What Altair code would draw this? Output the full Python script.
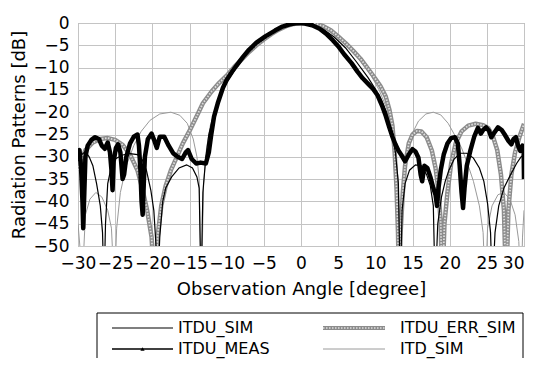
import altair as alt
import pandas as pd

# ---------------- data ----------------
x_ticks = [-30, -25, -20, -15, -10, -5, 0, 5, 10, 15, 20, 25, 30]
y_ticks = [0, -5, -10, -15, -20, -25, -30, -35, -40, -45, -50]

itd_sim_angle = [-30, -29.6, -29.4, -29.2, -29.0, -28.4, -27.6, -26.8, -26.0, -25.5, -25.1, -24.8,
                 -24.3, -23.5, -22.5, -21.5, -20.3, -19.0, -17.5, -16.3, -15.3, -14.5, -14.0, -13.7,
                 -13.4, -13.1, -12.7, -12.2, -11.5, -10.5, -9.5, -8.0, -6.5, -5.0, -3.5, -2.0, 0,
                 2.0, 3.5, 5.0, 6.5, 8.0, 9.5, 10.5, 11.5, 12.2, 12.7, 13.1, 13.4, 13.7, 14.2, 14.9,
                 15.8, 16.8, 17.8, 18.8, 19.8, 20.8, 21.6, 22.4, 23.2, 24.0, 24.5, 24.8, 25.1, 25.7,
                 26.5, 27.3, 28.1, 28.8, 29.3, 29.6, 29.8, 30.0]
itd_sim_db = [-45, -53, -60, -50, -43, -39.5, -38, -39, -42, -46, -60, -46,
              -38, -32, -27.5, -24.3, -21.8, -20.4, -20, -20.7, -22.5, -26, -30, -35,
              -60, -36, -28, -23, -19, -15, -12, -8.5, -5.6, -3.3, -1.6, -0.5, 0,
              -0.5, -1.6, -3.3, -5.6, -8.5, -12, -15, -19, -23, -28, -36, -60, -36, -29, -25,
              -22, -20.4, -20, -20.6, -22.5, -25.5, -28, -31.5, -35.5, -41, -47, -60, -46, -41,
              -38.5, -38, -39.5, -43, -49, -60, -48, -42]

itdu_err_angle = [-30, -29.5, -29, -28, -27, -26, -25, -24, -23, -22, -21.3, -20.7, -20.1, -19.7,
                  -19.3, -18.8, -18.2, -17.5, -16.7, -15.9, -15.0, -14.0, -13.2, -12.0, -11.0,
                  -10.0, -9.0, -8.0, -7.0, -6.0, -5.0, -4.0, -3.0, -2.0, -1.0, 0.0, 1.0, 2.0, 3.0,
                  4.0, 5.0, 6.0, 7.0, 8.0, 9.0, 10.0, 10.7, 11.4, 11.9, 12.3, 12.6, 12.85, 13.05,
                  13.2, 13.4, 13.7, 14.0, 14.5, 15.0, 15.6, 16.2, 16.9, 17.6, 18.1, 18.5, 18.8,
                  19.0, 19.3, 19.7, 20.2, 20.8, 21.6, 22.5, 23.5, 24.5, 25.2, 25.8, 26.4, 26.9,
                  27.3, 27.6, 27.9, 28.3, 28.8, 29.4, 30.0]
itdu_err_db = [-33, -30.5, -28.5, -26.8, -26, -25.8, -26.2, -27.3, -29.5, -33, -37.5, -42, -48, -60,
               -48, -41, -36.5, -33, -30, -27, -24.2, -20.8, -18, -15.3, -13.4,
               -11.8, -9.9, -8.2, -6.5, -5, -3.7, -2.5, -1.5, -0.7, -0.2, 0, 0, -0.2, -0.7,
               -1.6, -3, -4.5, -6.2, -8, -10.2, -12.5, -14.2, -16.5, -19.5, -23, -29, -37, -47,
               -60, -47, -38, -32, -27, -25, -24.2, -24.3, -25.6, -28.6, -32.5, -37.5, -45,
               -60, -45, -38, -31.5, -27, -24.3, -23, -22.6, -22.9, -23.6, -25.3, -28.5, -34,
               -42, -60, -42, -34, -29, -25.5, -22.6]

itdu_sim_angle = [-30, -29.5, -29.0, -28.5, -28.0, -27.5, -27.0, -26.7, -26.5, -26.3, -26.0, -25.5,
                  -25.0, -24.0, -23.0, -22.0, -21.4, -20.8, -20.2, -19.8, -19.5, -19.3, -19.0,
                  -18.6, -18.2, -17.4, -16.4, -15.4, -14.6, -14.0, -13.7, -13.45, -13.2, -12.8,
                  -12.4, -11.8, -11.0, -10.0, -8.7, -7.0, -5.0, -3.0, -1.5, 0, 1.5, 3.0, 4.5, 6.0,
                  7.5, 9.0, 10.0, 10.8, 11.5, 12.2, 12.7, 13.1, 13.35, 13.6, 14.0, 14.6, 15.4,
                  16.2, 16.9, 17.4, 17.8, 18.05, 18.4, 18.9, 19.4, 19.9, 20.6, 21.4, 22.3, 23.2,
                  24.0, 24.6, 25.1, 25.5, 25.75, 26.1, 26.6, 27.3, 28.2, 29.0, 29.6, 30.0]
itdu_sim_db = [-31, -29.5, -28.8, -30, -32, -36, -41, -47, -60, -45, -36, -32,
               -30.5, -29.6, -29.3, -29.5, -30.5, -33, -37.5, -42, -50, -60, -48,
               -40, -37, -34.5, -32.5, -31.8, -32.5, -34.5, -37, -60, -38, -30,
               -25, -21, -17, -13.2, -10, -6.2, -3.3, -1.3, -0.3, 0, -0.4, -1.4, -3.2, -5.6,
               -8.8, -12.2, -14.8, -17.2, -20, -24.5, -29, -36, -60, -42, -36, -33, -31.8,
               -32, -34, -36.5, -41, -60, -45, -39, -35.5, -33, -30.5, -29.2, -29.2, -30.3,
               -32.5, -35.5, -40.5, -47, -60, -47, -41, -37, -34, -31.5, -30, -29.5]

itdu_meas_angle = [-30.0, -29.8, -29.6, -29.4, -29.3, -29.15, -29.0, -28.7, -28.2, -27.7, -27.2,
                   -26.8, -26.4, -26.0, -25.7, -25.5, -25.35, -25.2, -24.9, -24.6, -24.3, -24.0,
                   -23.8, -23.5, -23.0, -22.5, -22.0, -21.8, -21.6, -21.45, -21.3, -21.15, -21.0,
                   -20.6, -20.1, -19.7, -19.4, -19.0, -18.4, -17.8, -17.2, -16.6, -16.0, -15.5,
                   -15.2, -14.7, -14.1, -13.5, -12.8, -12.4, -12.1, -11.7, -11.2, -10.5, -10.0,
                   -9.3, -8.7, -7.8, -7.0, -6.0, -4.8, -3.5, -2.5, -1.5, -0.5, 0.5, 1.5, 2.5, 3.5,
                   4.3, 5.0, 5.8, 6.8, 7.6, 8.3, 9.0, 9.7, 10.3, 10.9, 11.4, 11.9, 12.3, 12.7,
                   13.1, 13.5, 14.0, 14.5, 15.0, 15.4, 15.8, 16.1, 16.3, 16.6, 17.0, 17.4, 17.8,
                   18.1, 18.3, 18.5, 18.8, 19.2, 19.7, 20.2, 20.7, 21.1, 21.35, 21.6, 21.8, 22.0,
                   22.3, 22.8, 23.3, 23.8, 24.2, 24.5, 24.9, 25.3, 25.6, 26.0, 26.5, 27.0, 27.4,
                   27.9, 28.3, 28.6, 28.9, 29.2, 29.5, 29.8, 29.95, 30.0]
itdu_meas_db = [-29.5, -28.5, -32, -40, -46, -38, -30, -27.5, -26.2, -25.6, -26,
                -27.5, -28.2, -26.8, -29, -33, -37.5, -31, -28, -27.2, -29, -35,
                -34, -30, -27, -25.5, -25, -27.5, -33, -40, -43, -36, -30,
                -26, -24.8, -26.5, -28, -25.5, -25.5, -27.5, -29.2, -30, -30.5, -29,
                -28.5, -30.5, -31.5, -31.3, -31.5, -29, -25.3, -21, -18, -14.5, -12.8,
                -11, -9.6, -7.6, -6, -4.4, -3, -1.7, -0.8, -0.3, 0, -0.1, -0.5, -1.3, -2.6,
                -3.9, -5.2, -7, -9, -10.9, -12.4, -13.6, -14.8, -16.2, -18.5, -20.8, -23.5, -25.5, -27.2,
                -28.6, -29.6, -31, -29.5, -28.3, -28.8, -30.2, -34, -35.5, -32, -32.5, -34.5, -37,
                -38.5, -41, -37, -33, -29.5, -27, -25.8, -25.6, -27, -32, -38, -41.5, -37,
                -32, -28.5, -25.5, -23.5, -24.8, -24, -23.4, -24.2, -25.6, -24.6, -23.4, -24, -25,
                -26.4, -27.2, -26, -25.6, -27.5, -28.7, -27.5, -28, -35]

legend_labels = ["ITDU_SIM", "ITDU_ERR_SIM", "ITDU_MEAS", "ITD_SIM"]
legend_cols = [0, 1, 0, 1]
legend_rows = [0, 0, 1, 1]

# ---------------- styling / layout ----------------
FONT = "DejaVu Sans"
W, H = 446, 223

def frame(angles, dbs):
    return pd.DataFrame({"angle": angles, "db": dbs})

x_enc = alt.X("angle:Q",
              scale=alt.Scale(domain=[-30, 30], nice=False, zero=False),
              axis=alt.Axis(values=x_ticks, title="Observation Angle [degree]",
                            labelPadding=9, titlePadding=9, domain=False, ticks=False,
                            labelFlush=False, labelOverlap=False, grid=True,
                            labelAlign={"condition": {"test": "datum.value >= 30", "value": "right"},
                                        "value": "center"}))
y_enc = alt.Y("db:Q",
              scale=alt.Scale(domain=[-50, 0], nice=False, zero=False),
              axis=alt.Axis(values=y_ticks, title="Radiation Patterns [dB]",
                            labelPadding=9, titlePadding=5, domain=False, ticks=False,
                            labelFlush=False, labelOverlap=False, grid=True))

def line(df, **kw):
    return alt.Chart(df).mark_line(clip=True, **kw).encode(
        x=x_enc, y=y_enc, order="angle:Q")

itd = line(frame(itd_sim_angle, itd_sim_db), color="#9a9a9a", strokeWidth=1)
err_base = line(frame(itdu_err_angle, itdu_err_db), color="#8c8c8c", strokeWidth=4.5,
                strokeJoin="round")
err_top = line(frame(itdu_err_angle, itdu_err_db), color="#dedede", strokeWidth=1.8,
               strokeDash=[1.5, 1.5], strokeJoin="round")
sim = line(frame(itdu_sim_angle, itdu_sim_db), color="black", strokeWidth=1.2)
meas = line(frame(itdu_meas_angle, itdu_meas_db), color="black", strokeWidth=4.5,
            strokeJoin="round")

main = alt.layer(itd, err_base, err_top, sim, meas).properties(width=W, height=H)

# ---------------- legend panel ----------------
LW, LH = W, 45
col_sym0 = [34, 245]
col_sym1 = [95, 307]
col_lab = [100, 322]
row_y = [15, 36]
box_l, box_r = 19, 445

leg = pd.DataFrame({
    "label": legend_labels,
    "x0": [col_sym0[c] for c in legend_cols],
    "x1": [col_sym1[c] for c in legend_cols],
    "xm": [(col_sym0[c] + col_sym1[c]) / 2 for c in legend_cols],
    "xl": [col_lab[c] for c in legend_cols],
    "y": [row_y[r] for r in legend_rows],
})
box_edges = pd.DataFrame({"x0": [box_l, box_l, box_r], "x1": [box_r, box_l, box_r],
                          "y0": [0, 0, 0], "y1": [0, LH, LH]})

lx = alt.Scale(domain=[0, LW], nice=False, zero=False)
ly = alt.Scale(domain=[0, LH], nice=False, zero=False, reverse=True)

box_mark = alt.Chart(box_edges).mark_rule(color="black", strokeWidth=1).encode(
    x=alt.X("x0:Q", scale=lx, axis=None), x2="x1:Q",
    y=alt.Y("y0:Q", scale=ly, axis=None), y2="y1:Q")

def leg_rule(name, **kw):
    return alt.Chart(leg).transform_filter(alt.datum.label == name).mark_rule(**kw).encode(
        x=alt.X("x0:Q", scale=lx, axis=None), x2="x1:Q",
        y=alt.Y("y:Q", scale=ly, axis=None))

r_sim = leg_rule("ITDU_SIM", color="black", strokeWidth=1.2)
r_meas = leg_rule("ITDU_MEAS", color="black", strokeWidth=1.6)
r_err = leg_rule("ITDU_ERR_SIM", color="#8c8c8c", strokeWidth=4)
r_err2 = leg_rule("ITDU_ERR_SIM", color="#dedede", strokeWidth=1.6, strokeDash=[1.5, 1.5])
r_itd = leg_rule("ITD_SIM", color="#9a9a9a", strokeWidth=1)

m_meas = alt.Chart(leg).transform_filter(alt.datum.label == "ITDU_MEAS").mark_point(
    shape="triangle-up", filled=True, color="black", size=18, opacity=1).encode(
    x=alt.X("xm:Q", scale=lx, axis=None), y=alt.Y("y:Q", scale=ly, axis=None))

labels = alt.Chart(leg).mark_text(align="left", baseline="middle", font=FONT,
                                  fontSize=16, color="black").encode(
    x=alt.X("xl:Q", scale=lx, axis=None), y=alt.Y("y:Q", scale=ly, axis=None),
    text="label:N")

legend = alt.layer(box_mark, r_sim, r_meas, r_err, r_err2, r_itd, m_meas, labels).properties(
    width=LW, height=LH, view=alt.ViewBackground(stroke="transparent"))

chart = alt.vconcat(main, legend, spacing=13).properties(
    padding={"left": 1, "top": 5, "right": 0, "bottom": 0},
    background="white"
).configure_view(stroke="#999999", strokeWidth=1).configure_axis(
    labelFont=FONT, labelFontSize=17, labelColor="black",
    titleFont=FONT, titleFontSize=18, titleFontWeight="normal", titleColor="black",
    gridColor="#c4c4c4", gridWidth=1
)

chart.save("out.html", embed_options={"renderer": "svg", "actions": False})
